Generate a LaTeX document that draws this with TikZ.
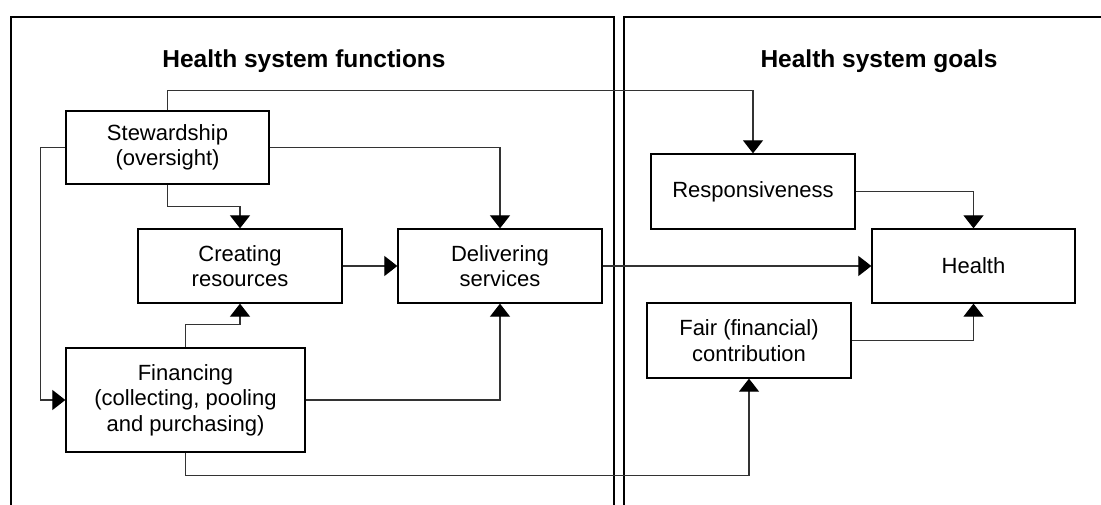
\documentclass[tikz,border=0pt]{standalone}
\usepackage{fontspec}
\setmainfont{Liberation Sans}
\usetikzlibrary{arrows.meta}
\tikzset{
  box/.style={draw=black, line width=1.3pt, fill=white, inner sep=0pt, align=center,
    font=\fontsize{22}{25.5}\selectfont, text=black},
  conn/.style={draw=black!80, line width=1.1pt, -{Triangle[length=13pt,width=20pt,color=black]}},
  panel/.style={draw=black, line width=1.6pt},
  paneltitle/.style={font=\fontsize{24.5}{28}\selectfont\bfseries, text=black}
}
\begin{document}
\begin{tikzpicture}[x=1pt,y=-1pt]
\useasboundingbox[fill=white] (0,0) rectangle (1101,505);
% panels
\draw[panel] (11,505) -- (11,17) -- (614,17) -- (614,505);
\draw[panel] (624,505) -- (624,17) -- (1101,17);
\node[paneltitle] (t1) at (304,61) {Health system functions};
\node[paneltitle] (t2) at (879,61) {Health system goals};
% boxes
\node[box, minimum width=203pt, minimum height=73pt] (stew) at (167.5,147.5) {Stewardship\\(oversight)};
\node[box, minimum width=204pt, minimum height=74pt] (create) at (240,266) {Creating\\resources};
\node[box, minimum width=204pt, minimum height=74pt] (deliver) at (500,266) {Delivering\\services};
\node[box, minimum width=239pt, minimum height=104pt] (fin) at (185.5,400) {Financing\\(collecting, pooling\\and purchasing)};
\node[box, minimum width=204pt, minimum height=75pt] (resp) at (753,191.5) {Responsiveness};
\node[box, minimum width=203pt, minimum height=74pt] (health) at (973.5,266) {Health};
\node[box, minimum width=204pt, minimum height=75pt] (fair) at (749,340.5) {Fair (financial)\\contribution};
% connectors
\draw[conn] (stew.north) -- ++(0,-20) -| (resp.north);
\draw[conn] (stew.west) -- ++(-25,0) |- (fin.west);
\draw[conn] (stew.east) -| (deliver.north);
\draw[conn] (stew.south) -- ++(0,22) -| (create.north);
\draw[conn] (create.east) -- (deliver.west);
\draw[conn] (fin.north) -- ++(0,-23) -| (create.south);
\draw[conn] (fin.east) -| (deliver.south);
\draw[conn] (fin.south) -- ++(0,23) -| (fair.south);
\draw[conn] (deliver.east) -- (health.west);
\draw[conn] (resp.east) -| (health.north);
\draw[conn] (fair.east) -| (health.south);
\end{tikzpicture}
\end{document}
